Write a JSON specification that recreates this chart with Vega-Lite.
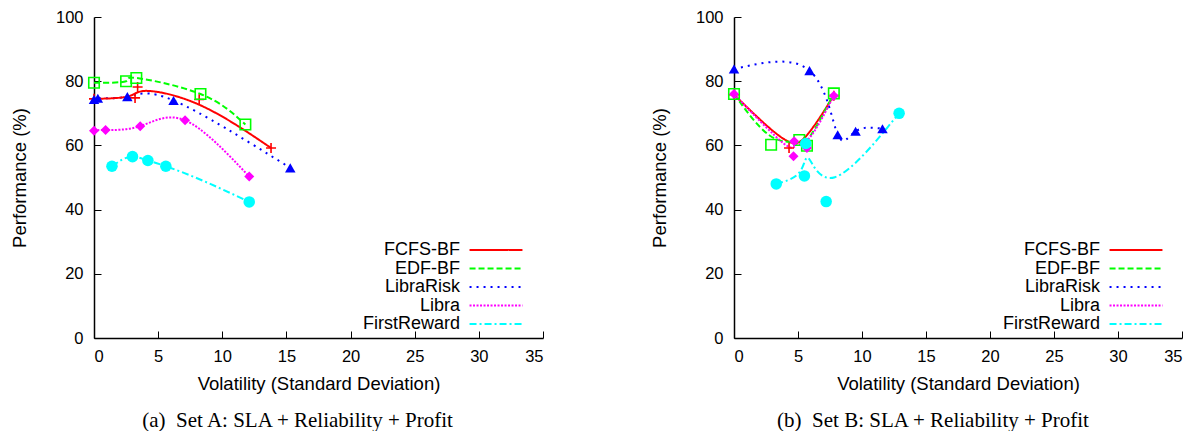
{
  "$schema": "https://vega.github.io/schema/vega-lite/v6.json",
  "padding": {"left": 10, "top": 9, "right": 5, "bottom": 0},
  "spacing": 106,
  "data": {"values": [
    {"panel": "A", "series": "FCFS-BF", "x": 0, "y": 74.5},
    {"panel": "A", "series": "FCFS-BF", "x": 3.2, "y": 74.8},
    {"panel": "A", "series": "FCFS-BF", "x": 3.4, "y": 78.2},
    {"panel": "A", "series": "FCFS-BF", "x": 8.2, "y": 74.3},
    {"panel": "A", "series": "FCFS-BF", "x": 13.8, "y": 59.2},
    {"panel": "A", "series": "EDF-BF", "x": 0, "y": 79.5},
    {"panel": "A", "series": "EDF-BF", "x": 2.5, "y": 80},
    {"panel": "A", "series": "EDF-BF", "x": 3.3, "y": 81},
    {"panel": "A", "series": "EDF-BF", "x": 8.3, "y": 76},
    {"panel": "A", "series": "EDF-BF", "x": 11.8, "y": 66.5},
    {"panel": "A", "series": "LibraRisk", "x": 0, "y": 74.3},
    {"panel": "A", "series": "LibraRisk", "x": 0.3, "y": 74.7},
    {"panel": "A", "series": "LibraRisk", "x": 2.6, "y": 75.2},
    {"panel": "A", "series": "LibraRisk", "x": 6.2, "y": 74},
    {"panel": "A", "series": "LibraRisk", "x": 15.3, "y": 53},
    {"panel": "A", "series": "Libra", "x": 0, "y": 64.6},
    {"panel": "A", "series": "Libra", "x": 0.9, "y": 64.8},
    {"panel": "A", "series": "Libra", "x": 3.6, "y": 66},
    {"panel": "A", "series": "Libra", "x": 7.1, "y": 67.8},
    {"panel": "A", "series": "Libra", "x": 12.1, "y": 50.3},
    {"panel": "A", "series": "FirstReward", "x": 1.4, "y": 53.5},
    {"panel": "A", "series": "FirstReward", "x": 3.0, "y": 56.5},
    {"panel": "A", "series": "FirstReward", "x": 4.2, "y": 55.3},
    {"panel": "A", "series": "FirstReward", "x": 5.6, "y": 53.5},
    {"panel": "A", "series": "FirstReward", "x": 12.1, "y": 42.4},
    {"panel": "B", "series": "FCFS-BF", "x": 0, "y": 75.8},
    {"panel": "B", "series": "FCFS-BF", "x": 4.3, "y": 59.2},
    {"panel": "B", "series": "FCFS-BF", "x": 5.5, "y": 61},
    {"panel": "B", "series": "FCFS-BF", "x": 7.8, "y": 75.5},
    {"panel": "B", "series": "EDF-BF", "x": 0, "y": 76},
    {"panel": "B", "series": "EDF-BF", "x": 2.9, "y": 60.2},
    {"panel": "B", "series": "EDF-BF", "x": 5.1, "y": 61.7},
    {"panel": "B", "series": "EDF-BF", "x": 5.7, "y": 59.9},
    {"panel": "B", "series": "EDF-BF", "x": 7.8, "y": 76.2},
    {"panel": "B", "series": "LibraRisk", "x": 0, "y": 83.8},
    {"panel": "B", "series": "LibraRisk", "x": 5.9, "y": 83.3},
    {"panel": "B", "series": "LibraRisk", "x": 8.1, "y": 63.3},
    {"panel": "B", "series": "LibraRisk", "x": 9.5, "y": 64.4},
    {"panel": "B", "series": "LibraRisk", "x": 11.6, "y": 65.2},
    {"panel": "B", "series": "Libra", "x": 0, "y": 76},
    {"panel": "B", "series": "Libra", "x": 4.65, "y": 56.6},
    {"panel": "B", "series": "Libra", "x": 4.7, "y": 61.3},
    {"panel": "B", "series": "Libra", "x": 5.7, "y": 59.2},
    {"panel": "B", "series": "Libra", "x": 7.8, "y": 75.5},
    {"panel": "B", "series": "FirstReward", "x": 3.3, "y": 48},
    {"panel": "B", "series": "FirstReward", "x": 5.5, "y": 50.5},
    {"panel": "B", "series": "FirstReward", "x": 5.6, "y": 60.6},
    {"panel": "B", "series": "FirstReward", "x": 7.2, "y": 42.5},
    {"panel": "B", "series": "FirstReward", "x": 12.9, "y": 70}
  ]},
  "resolve": {
    "scale": {"color": "independent", "strokeDash": "independent"},
    "legend": {"color": "independent", "strokeDash": "independent"}
  },
  "hconcat": [
    {
      "width": 449,
      "height": 321,
      "title": {"text": "(a)\u00a0 Set A: SLA + Reliability + Profit", "orient": "bottom", "font": "Liberation Serif", "fontSize": 21, "fontWeight": "normal", "color": "black", "offset": 17, "dx": -21},
      "transform": [{"filter": "datum.panel === 'A'"}],
      "encoding": {
        "x": {"field": "x", "type": "quantitative", "scale": {"domain": [0, 35], "nice": false}, "axis": {"title": "Volatility (Standard Deviation)", "values": [0, 5, 10, 15, 20, 25, 30, 35], "labelPadding": 17, "titlePadding": 10}},
        "y": {"field": "y", "type": "quantitative", "scale": {"domain": [0, 100], "nice": false}, "axis": {"title": "Performance (%)", "values": [0, 20, 40, 60, 80, 100], "labelPadding": 18, "titlePadding": 26}}
      },
      "layer": [
        {
          "transform": [{"filter": "datum.series === 'EDF-BF' || datum.series === 'LibraRisk' || datum.series === 'Libra'"}],
          "mark": {"type": "line", "interpolate": "natural", "strokeWidth": 2},
          "encoding": {
            "color": {"field": "series", "type": "nominal", "scale": {"domain": ["FCFS-BF", "EDF-BF", "LibraRisk", "Libra", "FirstReward"], "range": ["#ff0000", "#00ff00", "#0000ff", "#ff00ff", "#00ffff"]}, "legend": {"title": null}},
            "strokeDash": {"field": "series", "type": "nominal", "scale": {"domain": ["FCFS-BF", "EDF-BF", "LibraRisk", "Libra", "FirstReward"], "range": [[1, 0], [6, 3], [2, 5], [2, 1.5], [7, 3, 2, 3]]}, "legend": {"title": null}}
          }
        },
        {
          "transform": [{"filter": "datum.series === 'FCFS-BF'"}],
          "mark": {"type": "line", "interpolate": "basis", "strokeWidth": 2},
          "encoding": {
            "color": {"field": "series", "type": "nominal", "legend": {"title": null}},
            "strokeDash": {"field": "series", "type": "nominal", "legend": {"title": null}}
          }
        },
        {
          "transform": [{"filter": "datum.series === 'FirstReward'"}],
          "mark": {"type": "line", "interpolate": "monotone", "strokeWidth": 2},
          "encoding": {
            "color": {"field": "series", "type": "nominal", "legend": {"title": null}},
            "strokeDash": {"field": "series", "type": "nominal", "legend": {"title": null}}
          }
        },
        {"transform": [{"filter": "datum.series === 'FCFS-BF'"}], "mark": {"type": "point", "shape": "M-1,0H1M0,-1V1", "filled": false, "color": "#ff0000", "size": 100, "strokeWidth": 1.6, "opacity": 1}},
        {"transform": [{"filter": "datum.series === 'EDF-BF'"}], "mark": {"type": "point", "shape": "square", "filled": false, "color": "#00ff00", "size": 110, "strokeWidth": 1.6, "opacity": 1}},
        {"transform": [{"filter": "datum.series === 'LibraRisk'"}], "mark": {"type": "point", "shape": "triangle-up", "filled": true, "color": "#0000ff", "size": 110, "opacity": 1}},
        {"transform": [{"filter": "datum.series === 'Libra'"}], "mark": {"type": "point", "shape": "diamond", "filled": true, "color": "#ff00ff", "size": 100, "opacity": 1}},
        {"transform": [{"filter": "datum.series === 'FirstReward'"}], "mark": {"type": "point", "shape": "circle", "filled": true, "color": "#00ffff", "size": 133, "opacity": 1}}
      ]
    },
    {
      "width": 448,
      "height": 321,
      "title": {"text": "(b)\u00a0 Set B: SLA + Reliability + Profit", "orient": "bottom", "font": "Liberation Serif", "fontSize": 21, "fontWeight": "normal", "color": "black", "offset": 17, "dx": -25},
      "transform": [{"filter": "datum.panel === 'B'"}],
      "encoding": {
        "x": {"field": "x", "type": "quantitative", "scale": {"domain": [0, 35], "nice": false}, "axis": {"title": "Volatility (Standard Deviation)", "values": [0, 5, 10, 15, 20, 25, 30, 35], "labelPadding": 17, "titlePadding": 10}},
        "y": {"field": "y", "type": "quantitative", "scale": {"domain": [0, 100], "nice": false}, "axis": {"title": "Performance (%)", "values": [0, 20, 40, 60, 80, 100], "labelPadding": 18, "titlePadding": 26}}
      },
      "layer": [
        {
          "transform": [{"filter": "datum.series !== 'LibraRisk'"}],
          "mark": {"type": "line", "interpolate": "basis", "strokeWidth": 2},
          "encoding": {
            "color": {"field": "series", "type": "nominal", "scale": {"domain": ["FCFS-BF", "EDF-BF", "LibraRisk", "Libra", "FirstReward"], "range": ["#ff0000", "#00ff00", "#0000ff", "#ff00ff", "#00ffff"]}, "legend": {"title": null}},
            "strokeDash": {"field": "series", "type": "nominal", "scale": {"domain": ["FCFS-BF", "EDF-BF", "LibraRisk", "Libra", "FirstReward"], "range": [[1, 0], [6, 3], [2, 5], [2, 1.5], [7, 3, 2, 3]]}, "legend": {"title": null}}
          }
        },
        {
          "transform": [{"filter": "datum.series === 'LibraRisk'"}],
          "mark": {"type": "line", "interpolate": "natural", "strokeWidth": 2},
          "encoding": {
            "color": {"field": "series", "type": "nominal", "legend": {"title": null}},
            "strokeDash": {"field": "series", "type": "nominal", "legend": {"title": null}}
          }
        },
        {"transform": [{"filter": "datum.series === 'FCFS-BF'"}], "mark": {"type": "point", "shape": "M-1,0H1M0,-1V1", "filled": false, "color": "#ff0000", "size": 100, "strokeWidth": 1.6, "opacity": 1}},
        {"transform": [{"filter": "datum.series === 'EDF-BF'"}], "mark": {"type": "point", "shape": "square", "filled": false, "color": "#00ff00", "size": 110, "strokeWidth": 1.6, "opacity": 1}},
        {"transform": [{"filter": "datum.series === 'LibraRisk'"}], "mark": {"type": "point", "shape": "triangle-up", "filled": true, "color": "#0000ff", "size": 110, "opacity": 1}},
        {"transform": [{"filter": "datum.series === 'Libra'"}], "mark": {"type": "point", "shape": "diamond", "filled": true, "color": "#ff00ff", "size": 100, "opacity": 1}},
        {"transform": [{"filter": "datum.series === 'FirstReward'"}], "mark": {"type": "point", "shape": "circle", "filled": true, "color": "#00ffff", "size": 133, "opacity": 1}}
      ]
    }
  ],
  "config": {
    "view": {"stroke": null},
    "axis": {"grid": false, "domainColor": "black", "domainWidth": 1.5, "tickColor": "black", "tickWidth": 1, "tickSize": -7, "labelFont": "Liberation Sans", "labelFontSize": 16.5, "labelColor": "black", "titleFont": "Liberation Sans", "titleFontSize": 18.5, "titleFontWeight": "normal", "titleColor": "black"},
    "legend": {"orient": "none", "legendX": 393, "legendY": 224, "symbolType": "M-4,0H4", "symbolSize": 175, "symbolStrokeWidth": 2, "labelFont": "Liberation Sans", "labelFontSize": 18, "labelColor": "black", "labelAlign": "right", "labelOffset": -45, "rowPadding": 0.5, "padding": 0}
  }
}
